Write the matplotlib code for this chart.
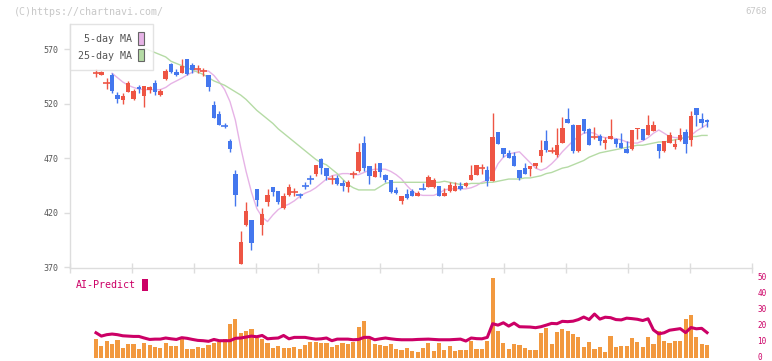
import numpy as np
import matplotlib
matplotlib.use("Agg")
import matplotlib.pyplot as plt
import matplotlib.transforms as mtransforms
from matplotlib.patches import Patch

# ---- data ----
opens = [548, 546.5, 538.5, 546.5, 528, 523.5, 531, 524.5, 535.5, 527,
         532.5, 539, 528, 542.5, 556.5, 549.5, 548.5, 561, 555.5, 551.5,
         550, 546.5, 519, 510.5, 500.3, 486, 455.5, 373, 409, 413.5,
         442, 409, 429.5, 443.5, 440, 424.5, 436.5, 439, 437, 445.3,
         451, 456, 469, 461.5, 450.5, 452, 447.5, 444, 455.3, 458.5,
         484.5, 462.5, 453, 466, 454.5, 450.5, 441, 431, 437, 440,
         435.5, 442.5, 444, 444, 444.5, 435, 440, 440, 444.5, 444.5,
         450, 454.5, 461, 459.5, 449.5, 494.5, 479.5, 475, 472, 459.5,
         461.5, 460, 462.5, 472.5, 486, 476.7, 473, 484.5, 506, 500.5,
         477, 506.5, 497, 489.5, 490.5, 484.5, 487.5, 487.5, 484.5, 478.5,
         479, 496.5, 497, 491, 495.5, 483, 477, 484.5, 480, 487,
         494, 487, 516, 506.5, 505]
highs = [551.5, 550.5, 543.5, 548.5, 531, 530, 541, 534, 537, 536.5,
         536.5, 542, 533.5, 551.5, 557, 551.5, 561.5, 561.5, 557, 555.5,
         552.5, 546.5, 522.5, 513, 502, 487.5, 459.5, 403.5, 429.5, 413.5,
         442, 424, 442, 443.5, 440, 438, 446, 442.5, 438, 448.5,
         454.5, 464, 470, 461.5, 455, 454.5, 450, 450, 458.5, 484.5,
         490.5, 462.5, 466, 466, 456, 450.5, 444, 435.5, 441.5, 441.5,
         440, 447, 455, 451.5, 444.5, 443, 448, 448, 448, 448.5,
         464, 464, 465, 462.5, 512, 494.5, 479.5, 478, 476, 459.5,
         465.5, 463, 466, 487, 496, 480, 497.5, 508, 516.5, 501.5,
         500.5, 506.5, 498, 498.5, 492, 490, 506, 489, 493, 486,
         496, 498, 497, 509.5, 504, 483, 486, 494, 487.5, 498,
         497, 513, 516.5, 511.5, 506]
lows = [544.5, 546, 534, 530, 521, 520, 531, 523.5, 530, 517.5,
        530, 528, 527, 542, 548.5, 545.5, 548, 546.5, 548.5, 548.5,
        545.5, 532, 507, 501, 497.5, 476, 426.5, 373, 407.5, 386,
        426.5, 399.5, 426.5, 435.5, 428, 423.5, 435, 435, 434, 442,
        446.5, 454, 456, 450, 446.5, 445.5, 440, 439, 451.5, 457,
        458.5, 446.5, 453, 453, 448.5, 438.5, 437, 428.5, 432.5, 435,
        435, 441, 443.5, 443, 435, 435, 439.5, 440, 441, 443.5,
        450, 454.5, 456, 445, 449.5, 483.5, 471.5, 470.5, 462.5, 450,
        455.5, 454, 461, 467, 476, 474.5, 471.5, 484.5, 502.5, 474.5,
        476, 493, 482, 487.5, 482, 479, 487.5, 480.5, 479.5, 474.5,
        478, 487.5, 487, 491, 495.5, 470.5, 475.5, 484.5, 478.5, 486,
        474.5, 481.5, 500, 499, 499]
closes = [548.5, 549.5, 539, 532, 524, 527, 539, 531.5, 533.5, 536.5,
          535, 531, 531.5, 550.5, 549.5, 546, 555, 547.5, 551, 552,
          550.5, 535, 507, 501, 499.5, 478.5, 436.5, 393, 421.5, 392.5,
          431.5, 419, 436.5, 439.5, 429.5, 435.5, 443.5, 439.5, 436.3, 444.6,
          450.3, 464, 461.5, 454, 451.5, 446.5, 444.5, 448.5, 456, 476,
          461.5, 454, 458.5, 457, 450, 439.5, 438, 435.5, 434, 435.5,
          438.5, 441.8, 453, 450, 435.5, 438, 445.5, 444.5, 442, 447,
          454.5, 464, 461.8, 449.5, 490, 483.5, 474, 470.5, 463, 452,
          455.5, 463, 466, 477.5, 477.5, 477.3, 482, 498, 502.5, 477,
          500.5, 495, 482, 490.2, 485.5, 487, 490.5, 483, 479.5, 474.5,
          496, 498, 487, 500.5, 500.5, 477, 486, 491.5, 483.5, 491.5,
          483, 509, 509.5, 502.5, 503.5]

ma5 = [np.nan, np.nan, np.nan, 548, 544, 540, 537, 535, 533.5, 533,
       533, 533, 533, 535, 538.5, 541, 543.5, 546.5, 549, 550.5,
       550.4, 550, 546, 540, 533, 522, 505, 480, 458, 439,
       424, 416, 412, 418, 423, 426, 428, 431, 435, 438,
       440, 443, 447, 451, 454, 455, 456, 456, 455, 455,
       457, 459, 460, 460, 460, 458, 455, 451, 445, 440,
       437, 436, 436, 436, 438, 441, 442, 442, 442, 442,
       443, 445, 448, 450, 455, 465, 471, 474, 475, 476,
       471, 466, 461, 459, 461, 465, 470, 476, 481, 486,
       490, 493, 494, 493, 490, 489, 489, 488, 487, 485,
       484, 484, 486, 489, 493, 496, 493, 490, 489, 489,
       488, 491, 495, 498, 501]
ma25 = [np.nan] * 9 + [
    571, 569, 567, 565, 563, 559, 557, 555, 553, 551,
    549, 547, 544, 541, 539, 537, 534, 531, 528, 524,
    519, 514, 510, 506, 502, 497, 493, 489, 485, 481,
    477, 473, 469, 466, 464, 460, 456, 451, 446, 443,
    441, 441, 441, 441, 444, 447, 448, 448, 448, 448,
    448, 448, 448, 448, 448, 448, 449, 448, 447, 446,
    446, 447, 447, 447, 448, 448, 449, 450, 451, 451,
    451, 452, 452, 453, 454, 456, 457, 459, 461, 462,
    464, 466, 468, 471, 473, 475, 476, 477, 478, 479,
    480, 481, 482, 482, 483, 484, 485, 485, 486, 487,
    488, 489, 490, 490, 491, 491]

volume = [12, 7.5, 10.7, 8.8, 11.3, 6.3, 8.8, 8.8, 5.7, 9.4,
          8.2, 6.9, 6.3, 9.4, 7.5, 7.5, 12, 5.7, 5.7, 6.9,
          6.3, 8.2, 9.4, 10, 12, 21.4, 24.5, 15.7, 17, 18.2,
          12.6, 12, 9.4, 6.3, 7.5, 6.3, 6.3, 6.9, 5.7, 8.2,
          10, 10, 9.4, 9.4, 6.9, 8.2, 9.4, 8.8, 10, 19.5,
          23.3, 12, 8.8, 8.2, 7.5, 8.8, 5.7, 5.0, 6.3, 4.4,
          3.8, 6.3, 9.4, 4.4, 9.4, 5.0, 7.5, 4.4, 5.0, 5.0,
          10.7, 5.7, 5.7, 10.7, 50, 17, 9.4, 5.7, 8.8, 8.2,
          6.3, 5.0, 5.0, 15.7, 18.9, 8.8, 16.4, 18.2, 17, 15.1,
          13.2, 6.9, 10, 5.7, 6.9, 3.8, 13.8, 6.9, 7.5, 7.5,
          12.6, 10, 6.9, 13.2, 8.8, 17, 10.7, 9.4, 10.7, 10.7,
          24.5, 27, 13.2, 8.8, 8.2]
ai_predict = [15.7, 13.6, 14.5, 14.9, 14.5, 13.8, 13.6, 13.4, 13.4, 12.4,
              11.5, 11.7, 11.7, 12.4, 11.9, 11.5, 12.6, 12.2, 11.5, 10.9,
              10.7, 10.3, 11.5, 10.7, 10.7, 10.7, 12.2, 12.4, 13, 13.6,
              13.2, 14, 11.9, 12.2, 12.4, 14, 11.9, 12.8, 12.8, 12.8,
              12.2, 11.7, 11.9, 12.4, 10.7, 11.7, 11.7, 11.7, 11.3, 11.5,
              12.8, 12.8, 11.3, 11.9, 12.4, 11.9, 11.5, 11.3, 11.3, 11.3,
              11.5, 11.6, 11.7, 11.5, 11.3, 11.3, 11.3, 11.5, 11.7, 10.5,
              12.4, 12.0, 11.9, 12.8, 21.4, 20.5, 22, 19.9, 21.8, 19.5,
              19.4, 19.3, 18.9, 19.5, 20.5, 21.6, 21.4, 22.9, 22.7, 23,
              24, 25.6, 24, 27.5, 24.3, 25.5, 25.2, 24, 23.8, 24.9,
              24.6, 24.2, 23.4, 24.5, 17.5, 15, 15.7, 17.3, 17.8, 18.3,
              15.8, 19, 18.2, 18.5, 15.8]

date_labels = ["3/18", "4/2", "4/16", "5/1", "5/19", "6/2", "6/16",
               "6/30", "7/14", "7/29", "8/13"]
date_idx = [14, 24, 34, 44, 54, 64, 74, 84, 94, 104, 114]
price_ticks = [370, 420, 470, 520, 570]
ai_ticks = [0, 10, 20, 30, 40, 50]

# ---- style ----
UP = "#EE5544"
DOWN = "#4477EE"
MA5_C = "#E6B3E6"
MA25_C = "#B5DBA5"
VOL_C = "#F2993F"
AI_C = "#CC0066"
AX_C = "#DDDDDD"
TXT_C = "#555555"
MONO = "DejaVu Sans Mono"

plt.rcParams["font.family"] = MONO

W, H = 772, 361
fig = plt.figure(figsize=(W / 100, H / 100), dpi=100)

def px_axes(x0, y0, x1, y1):
    return fig.add_axes([x0 / W, 1 - y1 / H, (x1 - x0) / W, (y1 - y0) / H])

ax = px_axes(70, 24, 752, 268)
ax2 = px_axes(70, 278.3, 752, 357.7)

n = len(closes)
x = np.arange(n)
o = np.array(opens)
c = np.array(closes)
hi = np.array(highs)
lo = np.array(lows)

colors = np.where(c >= o, UP, DOWN)
doji = np.abs(c - o) < 1.5

ax.vlines(x, lo, hi, colors=colors, linewidth=1.0, zorder=3)
body = ~doji
ax.bar(x[body], np.abs(c - o)[body], bottom=np.minimum(o, c)[body],
       width=0.82, color=colors[body], linewidth=0, zorder=4)
ax.hlines(((o + c) / 2)[doji], x[doji] - 0.65, x[doji] + 0.65,
          colors=colors[doji], linewidth=1.2, zorder=4)

ax.plot(x, ma5, color=MA5_C, linewidth=1.0, zorder=2)
ax.plot(x, ma25, color=MA25_C, linewidth=1.0, zorder=2)

x_left = (70 - 96) / 5.36
x_right = (752 - 96) / 5.36
ax.set_xlim(x_left, x_right)
ax.set_ylim(369.4, 593.2)

for s in ["top", "right"]:
    ax.spines[s].set_visible(False)
for s in ["left", "bottom"]:
    ax.spines[s].set_color(AX_C)
    ax.spines[s].set_linewidth(1.0)

ax.set_yticks(price_ticks)
ax.tick_params(axis="y", length=4, width=1, color=AX_C, labelcolor=TXT_C,
               labelsize=6, pad=4)

ax.set_xticks(np.linspace(x_left, x_right, 12))
ax.set_xticklabels([])
ax.tick_params(axis="x", which="major", direction="inout", length=7,
               width=1, color=AX_C)
ax.set_xticks(date_idx, minor=True)
ax.set_xticklabels(date_labels, minor=True)
ax.tick_params(axis="x", which="minor", length=0, labelsize=6,
               labelcolor=TXT_C, pad=7)

handles = [Patch(facecolor=MA5_C, edgecolor="#666666", linewidth=0.8),
           Patch(facecolor=MA25_C, edgecolor="#666666", linewidth=0.8)]
leg = ax.legend(handles, ["5-day MA", "25-day MA"], loc="upper left",
                bbox_to_anchor=(0, 1), borderaxespad=0, markerfirst=False,
                frameon=True, fancybox=False, edgecolor=AX_C,
                handlelength=0.6, handleheight=1.5, handletextpad=0.55,
                labelspacing=0.45, borderpad=0.85, fontsize=7.2)
leg.get_frame().set_linewidth(1.0)
for t in leg.get_texts():
    t.set_color(TXT_C)
leg.set_zorder(10)

# ---- lower panel ----
ax2.bar(x, volume, width=0.78, color=VOL_C, linewidth=0, zorder=2)
ax2.plot(x, ai_predict, color=AI_C, linewidth=2.2, zorder=3)
ax2.set_xlim(x_left, x_right)
ax2.set_ylim(0, 50)
for s in ax2.spines.values():
    s.set_visible(False)
ax2.set_xticks([])
ax2.yaxis.tick_right()
ax2.set_yticks(ai_ticks)
ax2.tick_params(axis="y", length=0, labelsize=5.5, labelcolor=AI_C, pad=4)
lift = mtransforms.ScaledTranslation(0, 1.5 / 100, fig.dpi_scale_trans)
for lab in ax2.get_yticklabels():
    lab.set_transform(lab.get_transform() + lift)

ax2.legend([Patch(facecolor=AI_C, edgecolor="none")], ["AI-Predict"],
           loc="center left", bbox_to_anchor=(76 / W, 1 - 285 / H),
           bbox_transform=fig.transFigure, markerfirst=False, frameon=False,
           handlelength=0.55, handleheight=1.6, handletextpad=0.6,
           borderpad=0, borderaxespad=0, fontsize=7.2, labelcolor=AI_C)

fig.text(14 / W, 1 - 12 / H, "(C)https://chartnavi.com/", fontsize=7.2,
         color="#C8C8C8", va="center", ha="left")
fig.text(767 / W, 1 - 12 / H, "6768", fontsize=6.5, color="#C8C8C8",
         va="center", ha="right")

fig.savefig("out.png", dpi=100)
